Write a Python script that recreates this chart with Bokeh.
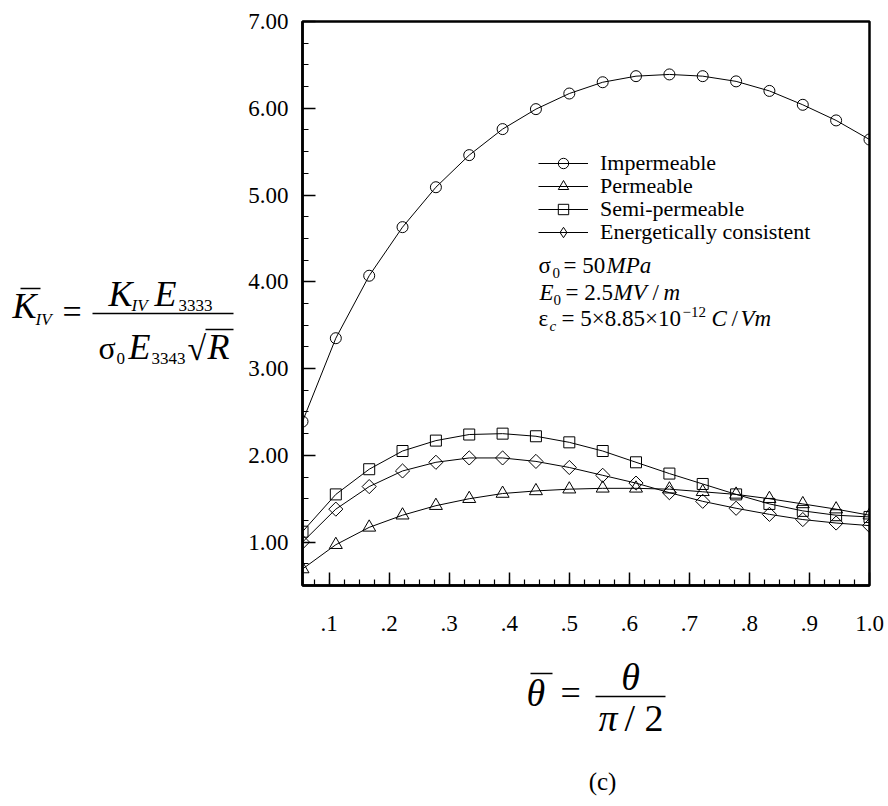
import numpy as np
from bokeh.plotting import figure
from bokeh.layouts import row, column
from bokeh.models import (Range1d, FixedTicker, CustomJSTickFormatter, NumeralTickFormatter,
                          Label, Arrow, Legend, LegendItem)
from bokeh.embed import file_html
from bokeh.resources import INLINE

# ---------------- data ----------------
theta = [0.0556, 0.1111, 0.1667, 0.2222, 0.2778, 0.3333, 0.3889, 0.4444, 0.5000,
         0.5556, 0.6111, 0.6667, 0.7222, 0.7778, 0.8333, 0.8889, 0.9444, 1.0000]
impermeable = [2.39, 3.35, 4.07, 4.63, 5.09, 5.46, 5.76, 5.99, 6.17,
               6.30, 6.37, 6.39, 6.37, 6.31, 6.20, 6.04, 5.86, 5.64]
permeable = [0.69, 0.97, 1.17, 1.31, 1.42, 1.50, 1.56, 1.59, 1.61,
             1.62, 1.62, 1.61, 1.58, 1.55, 1.50, 1.44, 1.38, 1.31]
semi_permeable = [1.12, 1.55, 1.84, 2.05, 2.17, 2.24, 2.25, 2.22, 2.15,
                  2.05, 1.92, 1.79, 1.67, 1.55, 1.44, 1.36, 1.31, 1.29]
energetic = [1.00, 1.38, 1.64, 1.82, 1.92, 1.97, 1.97, 1.93, 1.86,
             1.77, 1.68, 1.57, 1.47, 1.39, 1.32, 1.26, 1.22, 1.19]
series_names = ["Impermeable", "Permeable", "Semi-permeable", "Energetically consistent"]
x_ticks = [0.1, 0.2, 0.3, 0.4, 0.5, 0.6, 0.7, 0.8, 0.9, 1.0]
y_ticks = [1.0, 2.0, 3.0, 4.0, 5.0, 6.0, 7.0]
x_min, x_max = theta[0], 1.0
y_min, y_max = 0.5, 7.0

# ---------------- layout (page pixels) ----------------
W, H = 888, 806
LW = 236            # width of the left text panel (y formula)
HM = 650            # height of the main row
FL, FR, FT, FB = 302, 869, 21, 585   # plot frame on the page
FONT = "Liberation Serif"
BASE_SHIFT = 0.3    # Bokeh draws "alphabetic" text a bit low; compensate

p = figure(width=W - LW, height=HM, x_range=Range1d(x_min, x_max), y_range=Range1d(y_min, y_max),
           output_backend="svg", toolbar_location=None,
           min_border_left=FL - LW, min_border_right=W - FR,
           min_border_top=FT, min_border_bottom=HM - FB)
p.grid.visible = False
p.outline_line_color = "black"
p.outline_line_width = 2.5
p.background_fill_color = "white"
p.border_fill_color = "white"

x_minor = list(np.round(np.arange(0.075, 1.0, 0.025), 4))
y_minor = list(np.round(np.arange(0.75, 7.0, 0.25), 4))
p.xaxis.ticker = FixedTicker(ticks=x_ticks, minor_ticks=x_minor)
p.yaxis.ticker = FixedTicker(ticks=y_ticks, minor_ticks=y_minor)
p.xaxis.formatter = CustomJSTickFormatter(code="return tick.toFixed(1).replace(/^0/, '');")
p.yaxis.formatter = NumeralTickFormatter(format="0.00")
for ax in (p.xaxis[0], p.yaxis[0]):
    ax.axis_line_width = 2.5
    ax.axis_line_color = "black"
    ax.major_tick_in = 13
    ax.major_tick_out = 0
    ax.minor_tick_in = 6
    ax.minor_tick_out = 0
    ax.major_tick_line_width = 1.5
    ax.minor_tick_line_width = 1.2
    ax.major_label_text_font = FONT
    ax.major_label_text_font_size = "23px"
    ax.major_label_text_color = "black"
p.xaxis.major_label_standoff = 30
p.yaxis.major_label_standoff = 14

# ---------------- series ----------------
styles = [
    (impermeable, dict(marker="circle", size=11), None),
    (permeable, dict(marker="triangle", size=13), None),
    (semi_permeable, dict(marker="square", size=11), None),
    (energetic, dict(marker="square", size=10, angle=np.pi / 4), dict(marker="diamond", size=17)),
]
row_centers = [163, 186, 209, 232]   # legend rows, page pixels
ITEM_H = 26
for name, (vals, st, leg_st), cy in zip(series_names, styles, row_centers):
    ln = p.line(theta, vals, line_color="black", line_width=1)
    sc = p.scatter(theta, vals, fill_color=None, line_color="black", line_width=1, **st)
    rends = [ln, sc]
    if leg_st is not None:
        ghost = p.scatter(theta, vals, fill_color=None, line_color="black", line_width=1,
                          visible=False, **leg_st)
        rends = [ln, ghost]
    lg = Legend(items=[LegendItem(label=name, renderers=rends)],
                location=(538 - FL, FB - (cy + ITEM_H / 2)), orientation="vertical",
                glyph_width=50, glyph_height=ITEM_H, label_height=22, label_standoff=12,
                spacing=0, padding=0, margin=0, border_line_color=None,
                background_fill_alpha=0, label_text_font=FONT,
                label_text_font_size="22px", label_text_color="black")
    p.add_layout(lg, "center")

# ---------------- text helpers ----------------
def X(px):
    return x_min + (px - FL) / (FR - FL) * (x_max - x_min)

def Y(py):
    return y_min + (FB - py) / (FB - FT) * (y_max - y_min)

def lab_main(text, px, py, size, italic=False):
    py = py - BASE_SHIFT * size
    p.add_layout(Label(x=X(px), y=Y(py), text=text, text_font=FONT,
                       text_font_size=f"{size}px",
                       text_font_style="italic" if italic else "normal",
                       text_align="left", text_baseline="alphabetic", text_color="black"))

def text_fig(w, h, y_top, y_bottom, b_top=0, b_bottom=0):
    f = figure(width=w, height=h, x_range=Range1d(0, w), y_range=Range1d(y_bottom, y_top),
               output_backend="svg", toolbar_location=None,
               x_axis_type=None, y_axis_type=None, min_border=0,
               min_border_top=b_top, min_border_bottom=b_bottom)
    f.outline_line_color = None
    f.background_fill_color = "white"
    f.border_fill_color = "white"
    return f

def lab(f, text, px, py, size, italic=False, align="left"):
    py = py - BASE_SHIFT * size
    f.add_layout(Label(x=px, y=py, text=text, text_font=FONT,
                       text_font_size=f"{size}px",
                       text_font_style="italic" if italic else "normal",
                       text_align=align, text_baseline="alphabetic", text_color="black"))

def hline(f, px0, px1, py, w=1.5):
    f.add_layout(Arrow(start=None, end=None, x_start=px0, x_end=px1,
                       y_start=py, y_end=py, line_width=w, line_color="black"))

# annotations inside the plot
lab_main("σ", 538, 272, 23)
lab_main("0", 552, 277, 15)
lab_main("= 50", 563, 272, 23)
lab_main("MPa", 606, 272, 23, italic=True)

lab_main("E", 539, 299, 23, italic=True)
lab_main("0", 553, 304, 15)
lab_main("= 2.5", 565, 299, 23)
lab_main("MV", 613, 299, 23, italic=True)
lab_main("/", 652, 299, 23)
lab_main("m", 663, 299, 23, italic=True)

lab_main("ε", 538, 325, 23)
lab_main("c", 549, 330, 15, italic=True)
lab_main("= 5×8.85×10", 561, 325, 23)
lab_main("−12", 682, 316, 15)
lab_main("C", 711, 325, 23, italic=True)
lab_main("/", 731, 325, 23)
lab_main("Vm", 740, 325, 23, italic=True)

# left panel: K̄_IV = K_IV E_3333 / (σ0 E_3343 √R)  (frame spans page rows FT..FB)
left = text_fig(LW, HM, FT, FB, b_top=FT, b_bottom=HM - FB)
lab(left, "K", 12, 316, 36, italic=True)
hline(left, 20, 40, 288, 1.5)
lab(left, "IV", 35, 324, 17, italic=True)
lab(left, "=", 62, 321, 34)
hline(left, 92, 233, 313, 1.5)
lab(left, "K", 108, 304, 36, italic=True)
lab(left, "IV", 131, 310, 17, italic=True)
lab(left, "E", 154, 304, 36, italic=True)
lab(left, "3333", 178, 310, 17)
lab(left, "σ", 98, 357, 32)
lab(left, "0", 116, 363, 17)
lab(left, "E", 128, 357, 36, italic=True)
lab(left, "3343", 151, 363, 17)
lab(left, "√", 187, 358, 34)
hline(left, 205, 233, 329, 1.3)
lab(left, "R", 207, 357, 36, italic=True)

# bottom panel: θ̄ = θ / (π/2)   and   (c)   (page rows HM..H)
bottom = text_fig(W, H - HM, HM, H)
lab(bottom, "θ", 526, 704, 38, italic=True)
hline(bottom, 530, 552, 673, 1.5)
lab(bottom, "=", 560, 703, 36)
hline(bottom, 595, 665, 696, 1.5)
lab(bottom, "θ", 630, 688, 38, italic=True, align="center")
lab(bottom, "π", 598, 729, 38, italic=True)
lab(bottom, "/ 2", 624, 729, 38)
lab(bottom, "(c)", 602, 788, 25, align="center")

layout = column(row(left, p, spacing=0), bottom, spacing=0)
open("out.html", "w").write(file_html(layout, INLINE))
